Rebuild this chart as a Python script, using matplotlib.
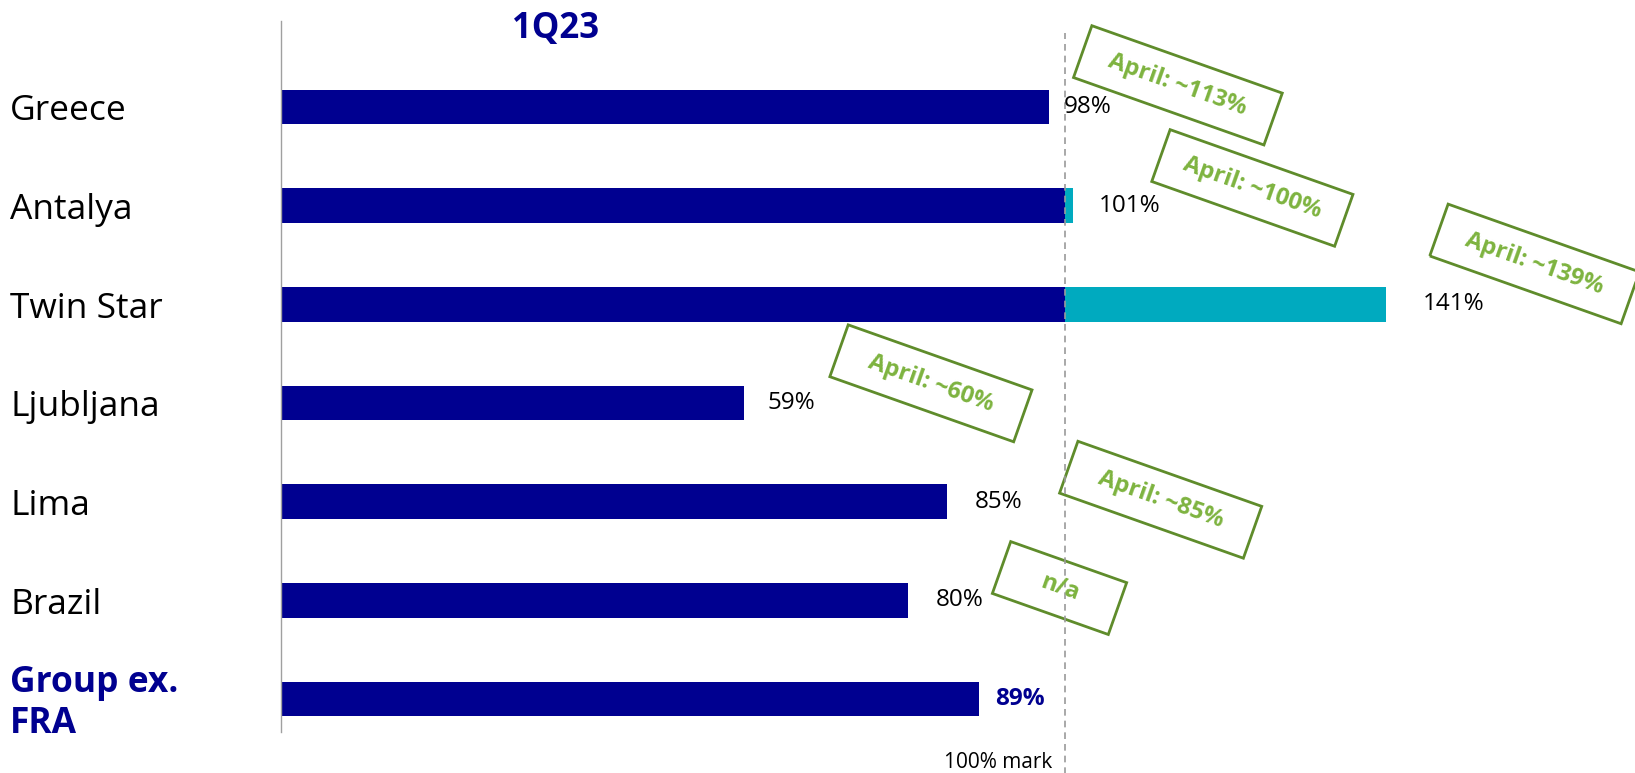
import numpy as np
import matplotlib
matplotlib.use("Agg")
import matplotlib.pyplot as plt
import matplotlib.transforms as mtransforms
from matplotlib.patches import Rectangle

# ── data ─────────────────────────────────────────────────────────────────────

sites = ["Greece", "Antalya", "Twin Star", "Ljubljana", "Lima", "Brazil", "Group ex.\nFRA"]
q1_pct = [98, 101, 141, 59, 85, 80, 89]
april_notes = ["April: ~113%", "April: ~100%", "April: ~139%", "April: ~60%",
               "April: ~85%", "n/a", None]
period_label = "1Q23"
mark_label = "100% mark"

# ── layout / style ───────────────────────────────────────────────────────────

NAVY = "#000090"
TEAL = "#00AABF"
NOTE_TEXT = "#7DB33F"
NOTE_EDGE = "#5F8C2B"
FONT = ["Open Sans", "DejaVu Sans"]

# placement of the rotated "April" boxes (data x, offset from row centre)
note_x = [114.4, 123.9, 159.9, 82.9, 112.2, 99.3]
note_dy = [-0.22, -0.18, -0.41, -0.20, -0.02, -0.125]
note_w_px = [202, 194, 203, 195, 195, 123]
note_h_px = 55
note_angle = -19.5
label_gap_px = [14, 26, 36, 24, 27, 28, 16]

plt.rcParams["font.family"] = FONT

W, H = 1635, 773
fig = plt.figure(figsize=(W / 100, H / 100), dpi=100)
ax = fig.add_axes([281 / W, 41 / H, 1 - 281 / W, 711 / H])

y = np.arange(len(sites))
vals = np.array(q1_pct, dtype=float)
base = np.minimum(vals, 100)
over = np.maximum(vals - 100, 0)

ax.barh(y, base, height=0.35, color=NAVY, linewidth=0)
ax.barh(y, over, left=100, height=0.35, color=TEAL, linewidth=0)

ax.set_xlim(0, (W - 281) / 7.84)
ax.set_ylim(6.334, -0.872)

for s in ["top", "right", "bottom"]:
    ax.spines[s].set_visible(False)
ax.spines["left"].set_color("#a0a0a0")
ax.spines["left"].set_linewidth(1.0)
ax.set_xticks([])
ax.set_yticks([])

# 100% reference line
ax.axvline(100, ymin=-0.06, ymax=0.983, color="#9a9a9a", linewidth=1.2,
           linestyle=(0, (4, 3)), clip_on=False)
ax.annotate(mark_label, xy=(100, -0.0436), xycoords=("data", "axes fraction"),
            xytext=(-9.5, 0), textcoords="offset points",
            ha="right", va="center", fontsize=15, color="black",
            annotation_clip=False)

# value labels
last = len(sites) - 1
for i, v in enumerate(q1_pct):
    bold = i == last
    ax.annotate(f"{v}%", xy=(v, i), xytext=(label_gap_px[i] * 0.72, 0),
                textcoords="offset points", ha="left", va="center",
                fontsize=17.5, fontweight="bold" if bold else "normal",
                color=NAVY if bold else "black")

# category labels at the left edge of the figure
lab_tr = mtransforms.blended_transform_factory(fig.transFigure, ax.transData)
for i, name in enumerate(sites):
    bold = i == last
    ax.text(10 / W, i + 0.045, name, transform=lab_tr, ha="left", va="center",
            fontsize=25.5, fontweight="bold" if bold else "normal",
            color=NAVY if bold else "black", linespacing=1.18, clip_on=False)

# title
fig.text(556 / W, 1 - 29 / H, period_label, ha="center", va="center",
         fontsize=25, fontweight="bold", color=NAVY)

# rotated April boxes
for i, note in enumerate(april_notes):
    if note is None:
        continue
    cx, cy = note_x[i], i + note_dy[i]
    w, h = note_w_px[i] / 100, note_h_px / 100
    tr = (mtransforms.Affine2D().rotate_deg(note_angle)
          + fig.dpi_scale_trans
          + mtransforms.ScaledTranslation(cx, cy, ax.transData))
    rect = Rectangle((-w / 2, -h / 2), w, h, transform=tr, fill=False,
                     edgecolor=NOTE_EDGE, linewidth=2.0, clip_on=False)
    ax.add_patch(rect)
    ax.text(cx, cy, note, rotation=note_angle, rotation_mode="anchor",
            ha="center", va="center", fontsize=17, fontweight="bold",
            color=NOTE_TEXT, clip_on=False)

fig.savefig("out.png", dpi=100)
